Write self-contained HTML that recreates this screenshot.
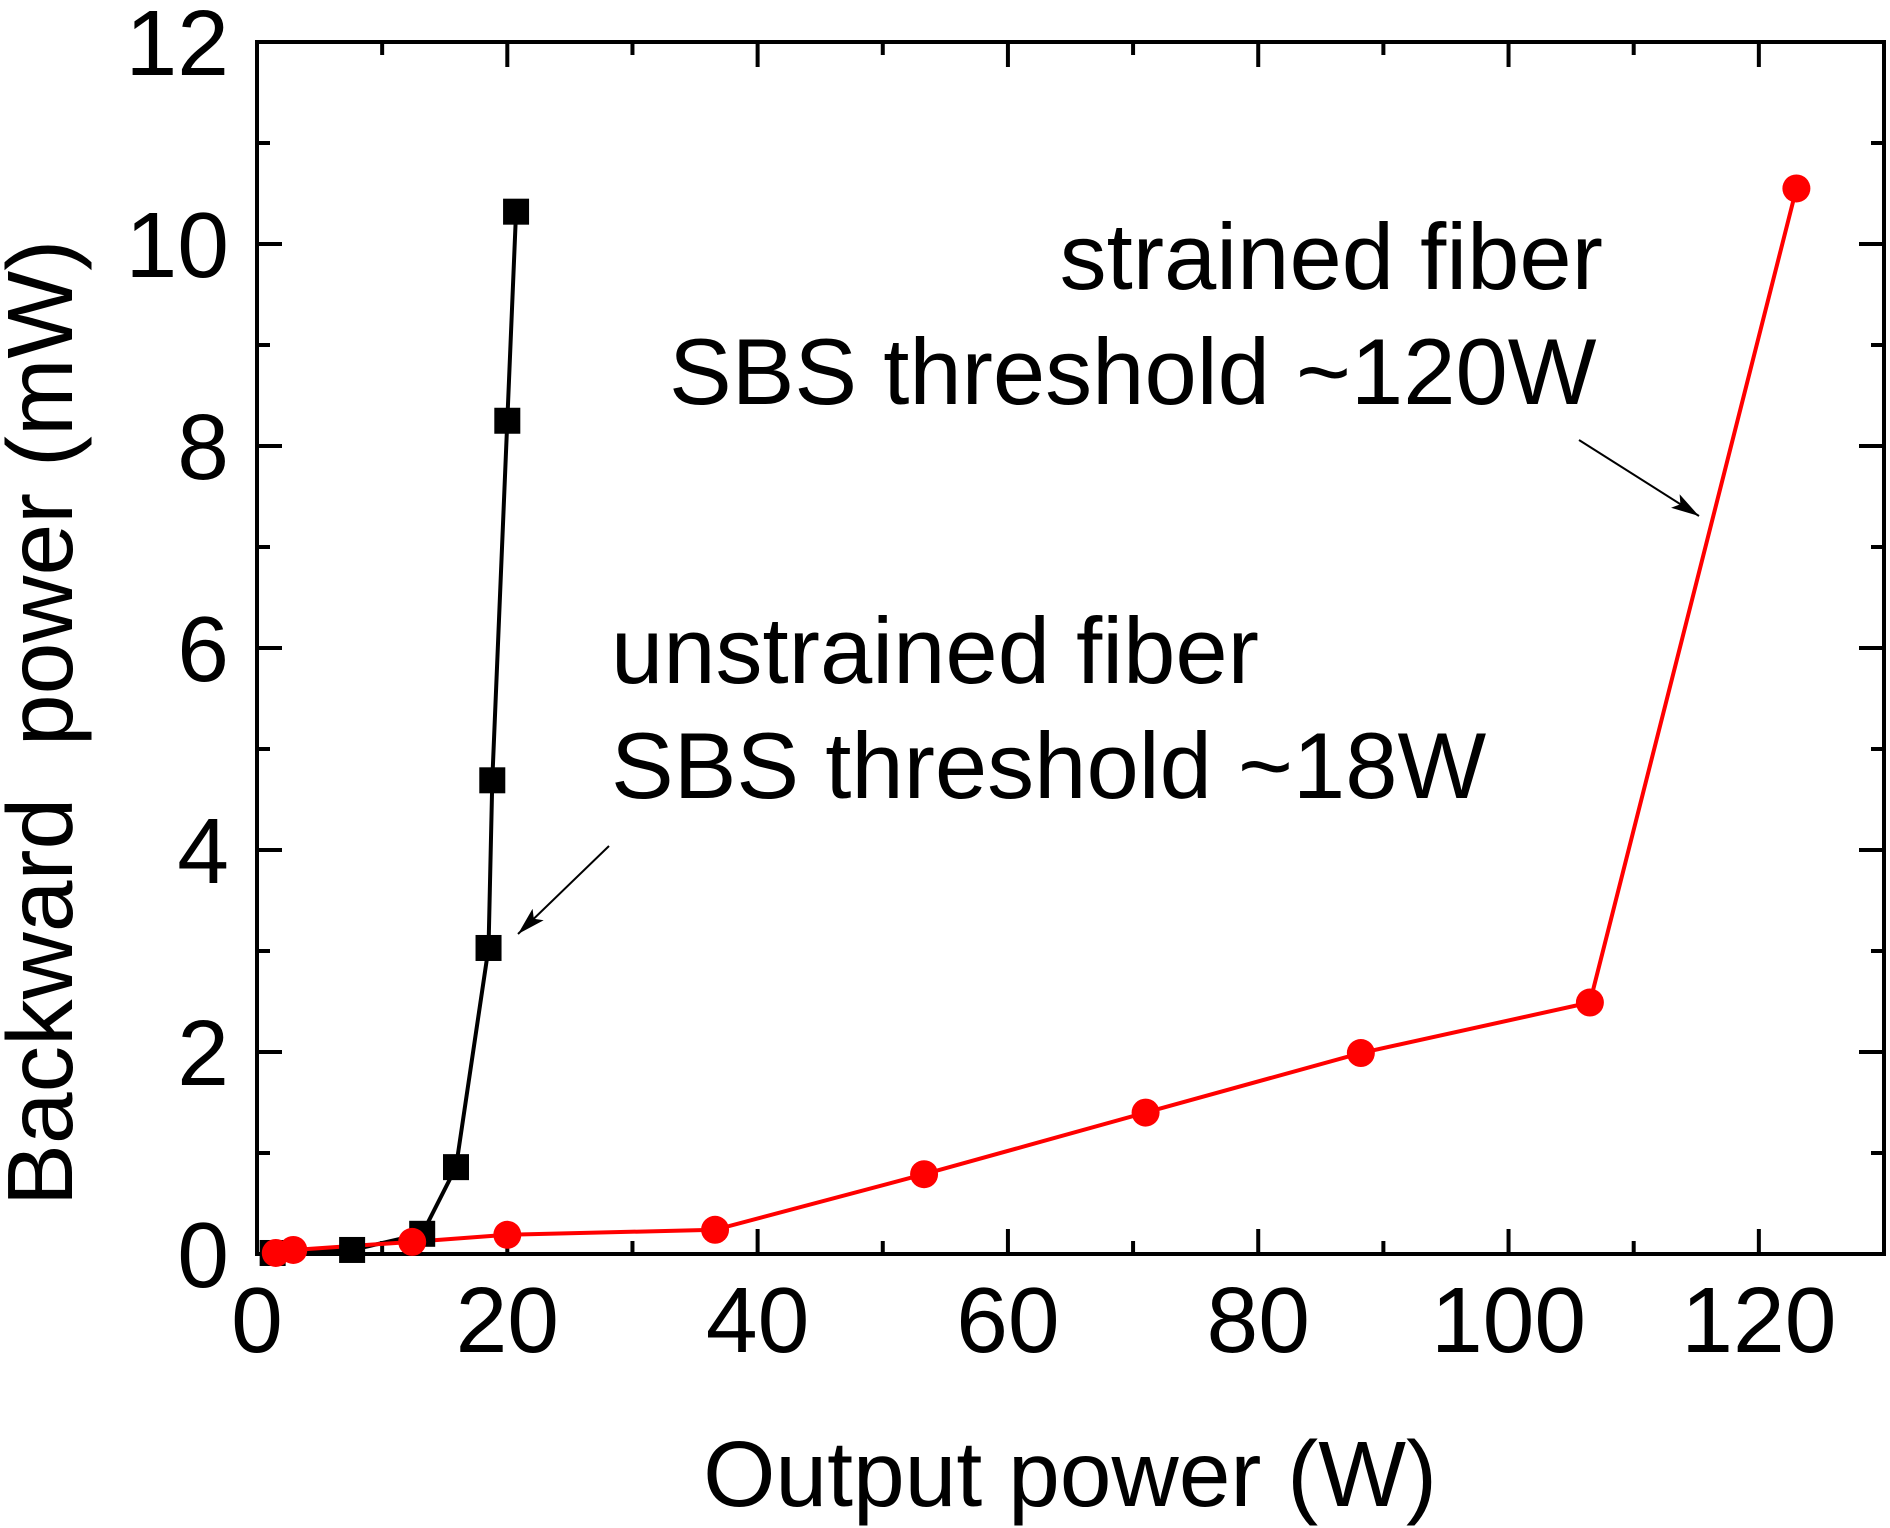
<!DOCTYPE html>
<html><head><meta charset="utf-8"><style>
html,body{margin:0;padding:0;background:#fff;}
svg{display:block;font-family:"Liberation Sans",Arial,sans-serif;}
</style></head><body>
<svg id="chart" width="1890" height="1528" viewBox="0 0 1890 1528" xmlns="http://www.w3.org/2000/svg">
<g id="axes"></g>
<g id="series"></g>
<text x="1070" y="1506" font-size="93" text-anchor="middle">Output power (W)</text>
<text transform="translate(72,723) rotate(-90)" font-size="93" text-anchor="middle" xml:space="preserve">Backward  power (mW)</text>
<text x="1603" y="289" font-size="94" text-anchor="end">strained fiber</text>
<text x="669" y="404" font-size="94">SBS threshold ~120W</text>
<text x="611" y="683" font-size="94">unstrained fiber</text>
<text x="611" y="798" font-size="94">SBS threshold ~18W</text>
<defs><marker id="ah" markerWidth="30" markerHeight="20" refX="28" refY="10" orient="auto" markerUnits="userSpaceOnUse"><path d="M0,2 L28,10 L0,18 L6,10 Z" fill="#000"/></marker></defs>
<line x1="1579" y1="440" x2="1699" y2="516" stroke="#000" stroke-width="2" marker-end="url(#ah)"/>
<line x1="609" y1="846" x2="518" y2="934" stroke="#000" stroke-width="2" marker-end="url(#ah)"/>
</svg>
<script>
const xTicks=[0,20,40,60,80,100,120];
const yTicks=[0,2,4,6,8,10,12];
const unstrainedX=[1.25,7.6,13.2,15.9,18.5,18.8,20.0,20.7];
const unstrainedY=[0.01,0.04,0.2,0.86,3.03,4.69,8.25,10.32];
const strainedX=[1.5,2.9,12.4,20,36.6,53.3,71,88.2,106.5,123];
const strainedY=[0.01,0.04,0.12,0.19,0.24,0.79,1.4,1.99,2.49,10.55];
const L=257,R=1884,T=42,B=1254,XMAX=130,YMAX=12;
const sx=v=>L+v*(R-L)/XMAX, sy=v=>B-v*(B-T)/YMAX;
const NS="http://www.w3.org/2000/svg";
function mk(tag,attrs,parent){const e=document.createElementNS(NS,tag);for(const k in attrs)e.setAttribute(k,attrs[k]);parent.appendChild(e);return e;}
const ax=document.getElementById('axes');
let f=mk('rect',{x:L,y:T,width:R-L,height:B-T,fill:'none',stroke:'#000','stroke-width':4},ax);


for(let v=0;v<=XMAX;v+=10){const maj=v%20===0,len=maj?25:13,x=sx(v);
 let t=mk('line',{x1:x,y1:B,x2:x,y2:B-len,stroke:'#000','stroke-width':4},ax);
 
 
 let t2=mk('line',{x1:x,y1:T,x2:x,y2:T+len,stroke:'#000','stroke-width':4},ax);
 
 }
for(let v=0;v<=YMAX;v+=1){const maj=v%2===0,len=maj?25:13,y=sy(v);
 let t=mk('line',{x1:L,y1:y,x2:L+len,y2:y,stroke:'#000','stroke-width':4},ax);
 
 
 let t2=mk('line',{x1:R,y1:y,x2:R-len,y2:y,stroke:'#000','stroke-width':4},ax);
 
 }
xTicks.forEach(v=>{let t=mk('text',{x:sx(v),y:1352,'font-size':93,'text-anchor':'middle'},ax);t.textContent=v;
 
 });
yTicks.forEach(v=>{let t=mk('text',{x:229,y:sy(v)+33,'font-size':93,'text-anchor':'end'},ax);t.textContent=v;
 
 });
const sg=document.getElementById('series');
function pts(X,Y){return X.map((x,i)=>sx(x)+','+sy(Y[i])).join(' ');}
let l1=mk('polyline',{points:pts(unstrainedX,unstrainedY),fill:'none',stroke:'#000','stroke-width':4},sg);


let l2=mk('polyline',{points:pts(strainedX,strainedY),fill:'none',stroke:'#ff0000','stroke-width':4},sg);


unstrainedX.forEach((x,i)=>{let r=mk('rect',{x:sx(x)-13,y:sy(unstrainedY[i])-13,width:26,height:26,fill:'#000'},sg);
 
 });
strainedX.forEach((x,i)=>{let c=mk('circle',{cx:sx(x),cy:sy(strainedY[i]),r:14,fill:'#ff0000'},sg);
 
 });
</script>
</body></html>
